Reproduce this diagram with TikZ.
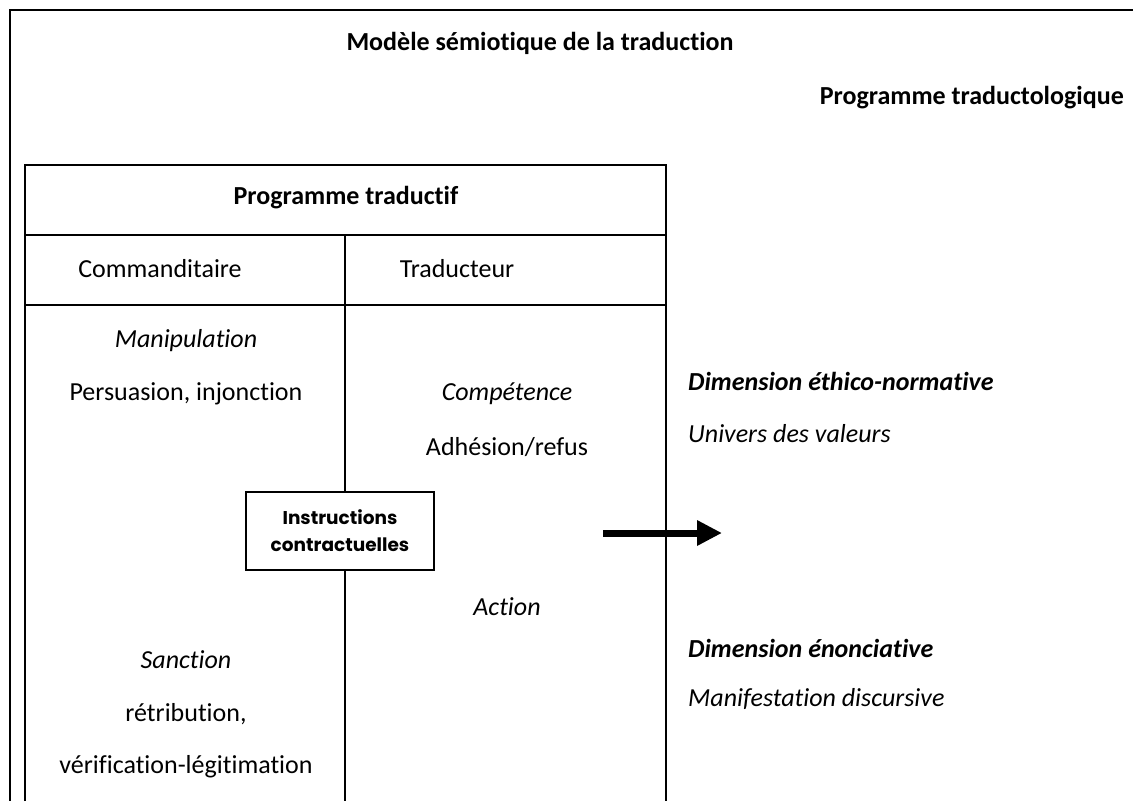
\documentclass[tikz,border=0pt]{standalone}
\usepackage{fontspec}
\setmainfont{Carlito}[Ligatures=NoCommon]
\newfontfamily\boxfont{Poppins}
\usetikzlibrary{arrows.meta}

\begin{document}
\begin{tikzpicture}[x=1pt, y=-1pt,
        txt/.style={inner sep=0pt, font=\fontsize{26}{31}\selectfont},
        frame/.style={black, line width=2pt}]
    \useasboundingbox (0,0) rectangle (1133,801);
    % outer frame and table
    \draw[frame] (1133,10) -- (10,10) -- (10,801);
    \draw[frame] (25,801) -- (25,165) -- (666,165) -- (666,801);
    \draw[frame] (25,235) -- (666,235);
    \draw[frame] (25,305) -- (666,305);
    \draw[black, line width=1.6pt] (345,235) -- (345,801);
    % titles
    \node[txt, font=\fontsize{26}{31}\selectfont\bfseries] (modele) at (540,43) {Modèle sémiotique de la traduction};
    \node[txt, font=\fontsize{26}{31}\selectfont\bfseries, anchor=east] (traductologique) at (1124,98) {Programme traductologique};
    \node[txt, font=\fontsize{26}{31}\selectfont\bfseries] (traductif) at (346,198) {Programme traductif};
    \node[txt] (commanditaire) at (160,269) {Commanditaire};
    \node[txt] (traducteur) at (457,269) {Traducteur};
    % left column
    \node[txt, font=\fontsize{26}{31}\selectfont\itshape] (manipulation) at (186,341) {Manipulation};
    \node[txt] (persuasion) at (186,394) {Persuasion, injonction};
    \node[txt, font=\fontsize{26}{31}\selectfont\itshape] (sanction) at (186,660) {Sanction};
    \node[txt] (retribution) at (186,714) {rétribution,};
    \node[txt] (verification) at (186,767) {vérification-légitimation};
    % right column
    \node[txt, font=\fontsize{26}{31}\selectfont\itshape] (competence) at (507,394) {Compétence};
    \node[txt] (adhesion) at (507,447) {Adhésion/refus};
    \node[txt, font=\fontsize{26}{31}\selectfont\itshape] (action) at (507,607) {Action};
    % contract box
    \node[draw, line width=1.5pt, fill=white, inner sep=0pt, minimum width=188pt, minimum height=78pt,
        align=center, font=\boxfont\bfseries\fontsize{18.5}{27}\selectfont] (instructions) at (340,531) {Instructions\\contractuelles};
    % dimensions
    \node[txt, font=\fontsize{26}{31}\selectfont\bfseries\itshape, anchor=west] (ethico) at (688,381) {Dimension éthico-normative};
    \node[txt, font=\fontsize{26}{31}\selectfont\itshape, anchor=west] (valeurs) at (688,434) {Univers des valeurs};
    \node[txt, font=\fontsize{26}{31}\selectfont\bfseries\itshape, anchor=west] (enonciative) at (688,648) {Dimension énonciative};
    \node[txt, font=\fontsize{26}{31}\selectfont\itshape, anchor=west] (manifestation) at (688,699) {Manifestation discursive};
    % arrow
    \coordinate (arrowtail) at (603,533);
    \coordinate (arrowtip) at (722,533);
    \draw[black, line width=7pt, -{Triangle[length=25pt, width=24pt]}] (arrowtail) -- (arrowtip);
\end{tikzpicture}
\end{document}
